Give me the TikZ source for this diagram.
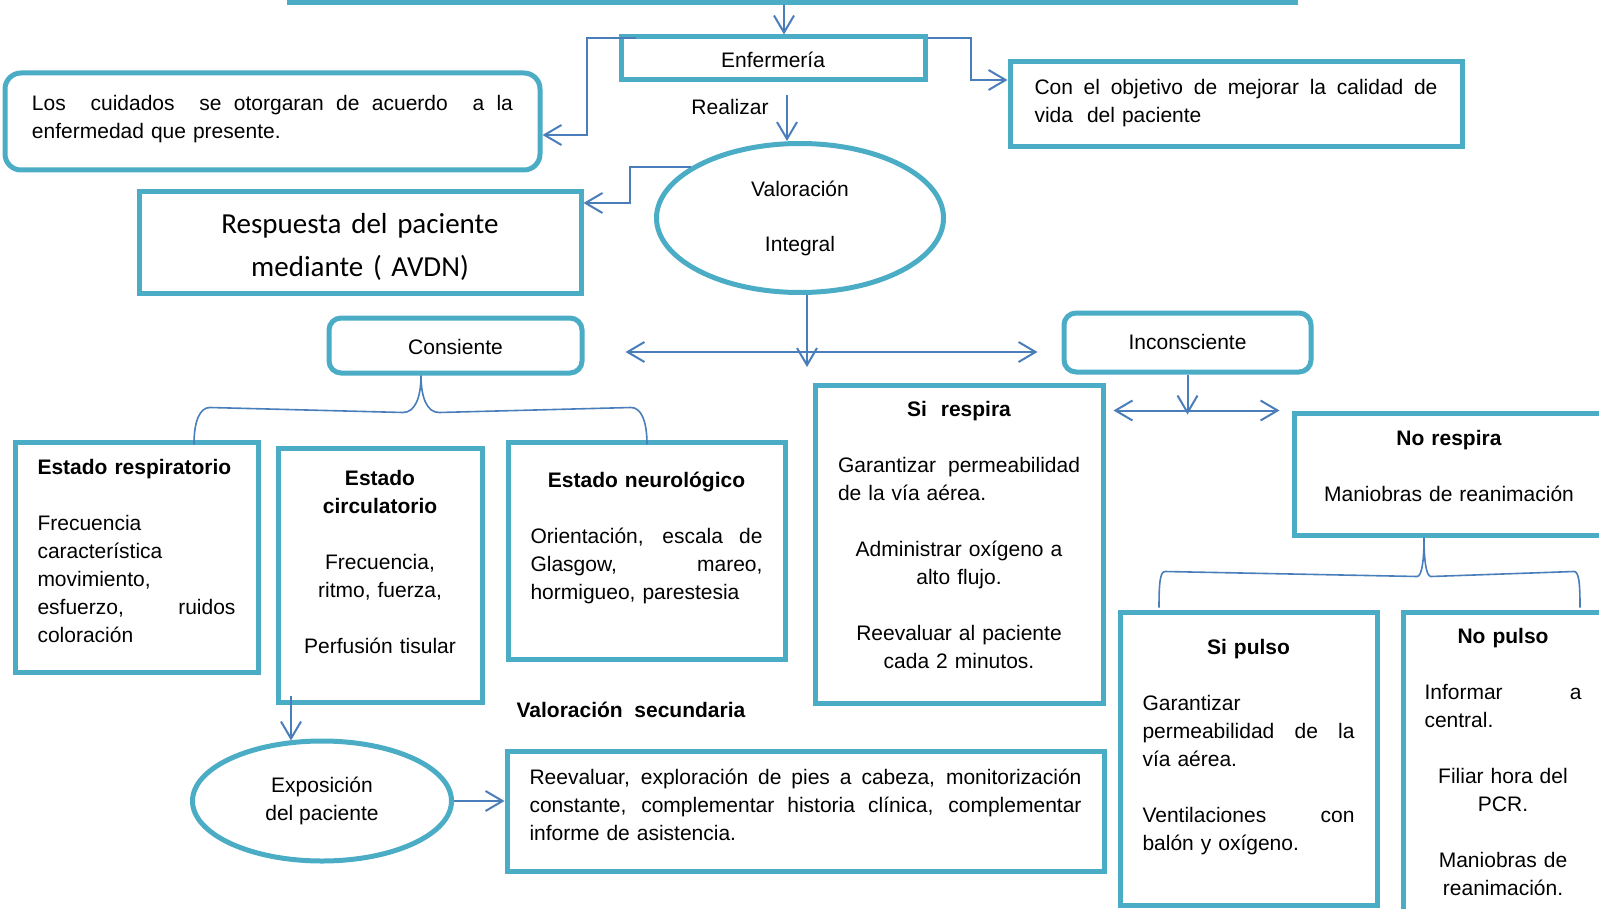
\documentclass[tikz,border=0pt]{standalone}
\usepackage{fontspec}
\setmainfont{Liberation Sans}
\newfontfamily\calib{Carlito}
\usepackage{tikz}
\usetikzlibrary{shapes.geometric, arrows.meta, calc}
\definecolor{boxc}{HTML}{4BACC6}
\definecolor{linkc}{HTML}{4A7EBB}
\newcommand{\jrow}[1]{\makebox[\linewidth][s]{\spaceskip=0pt\xspaceskip=0pt\relax #1}}
\newcommand{\lrow}[1]{\makebox[\linewidth][l]{#1}}

\begin{document}
\begin{tikzpicture}[x=0.5pt, y=-0.5pt,
	>={Straight Barb[length=8.5pt,width=10pt]},
	every node/.style={font=\fontsize{10.5}{14}\selectfont},
	box/.style={draw=boxc, line width=2.5pt, inner sep=0pt, anchor=base},
	rbox/.style={box, rounded corners=6pt},
	oval/.style={ellipse, draw=boxc, line width=2.5pt, inner sep=0pt},
	link/.style={draw=linkc, line width=1pt, ->},
	brace/.style={draw=linkc, line width=0.8pt}]
	\useasboundingbox (0,0) rectangle (1599,909);
	\node[box, minimum width=503pt, text height=20pt, text depth=0pt] (title) at (792,3) {};
	\node[box, minimum width=152pt, text height=15.5pt, text depth=6pt] (enf) at (773,68) {Enfermería};
	\node[rbox, rounded corners=8pt, minimum width=267.5pt, text width=240.5pt, align=left,
		text height=19pt, text depth=29.5pt] (los) at (272.5,111)
		{\jrow{Los\ \ cuidados\ \ se otorgaran de acuerdo\ \ a la}\\enfermedad que presente.};
	\node[box, minimum width=226pt, text width=201.5pt, align=left,
		text height=16.5pt, text depth=26pt] (con) at (1236,95)
		{\jrow{Con el objetivo de mejorar la calidad de}\\vida\ \ del paciente};
	\node (real) at (730,107) {Realizar};
	\node[oval, minimum width=143.5pt, minimum height=74.5pt, align=center] (val) at (800,218)
		{Valoración\\[13.5pt]Integral};
	\node[box, minimum width=221pt, text width=210pt, align=center, font=\calib\fontsize{14.5}{21.5}\selectfont,
		text height=21pt, text depth=29.5pt] (resp) at (360,234)
		{Respuesta del paciente\\mediante ( AVDN)};
	\node[rbox, minimum width=126.5pt, text height=18pt, text depth=9.5pt] (cons) at (455.5,354) {Consiente};
	\node[rbox, minimum width=123.5pt, text height=18pt, text depth=11.5pt] (incons) at (1187.5,349) {Inconsciente};
	\node[box, minimum width=121.5pt, text width=99pt, align=left,
		text height=16pt, text depth=99pt] (estres) at (136.5,474)
		{\textbf{Estado respiratorio}\\[14pt]Frecuencia\\característica\\movimiento,\\\jrow{esfuerzo, ruidos}\\coloración};
	\node[box, minimum width=102pt, text width=85pt, align=center,
		text height=18.5pt, text depth=108.5pt] (circ) at (380,485)
		{\textbf{Estado}\\\textbf{circulatorio}\\[14pt]Frecuencia,\\ritmo, fuerza,\\[14pt]Perfusión tisular};
	\node[box, minimum width=138.5pt, text width=116pt, align=center,
		text height=22.5pt, text depth=86pt] (neuro) at (646.5,487)
		{\textbf{Estado neurológico}\\[14pt]\jrow{Orientación, escala de}\\\jrow{Glasgow, mareo,}\\\lrow{hormigueo, parestesia}};
	\node[box, minimum width=144pt, text width=121pt, align=center,
		text height=15.5pt, text depth=143.5pt] (sires) at (959,416)
		{\textbf{Si\ \ respira}\\[14pt]\jrow{Garantizar permeabilidad}\\\lrow{de la vía aérea.}\\[14pt]Administrar oxígeno a\\alto flujo.\\[14pt]Reevaluar al paciente\\cada 2 minutos.};
	\node[box, minimum width=155pt, text width=135pt, align=center,
		text height=16pt, text depth=45pt] (nores) at (1449,445)
		{\textbf{No respira}\\[14pt]Maniobras de reanimación};
	\node[box, minimum width=128.5pt, text width=106pt, align=center,
		text height=21pt, text depth=125.5pt] (sipul) at (1248.5,654)
		{\textbf{Si pulso}\\[14pt]\lrow{Garantizar}\\\jrow{permeabilidad de la}\\\lrow{vía aérea.}\\[14pt]\jrow{Ventilaciones con}\\\lrow{balón y oxígeno.}};
	\node[box, minimum width=100pt, text width=78.5pt, align=center,
		text height=15.5pt, text depth=136pt] (nopul) at (1503,643)
		{\textbf{No pulso}\\[14pt]\jrow{Informar a}\\\lrow{central.}\\[14pt]Filiar hora del\\PCR.\\[14pt]Maniobras de\\reanimación.};
	\node[oval, minimum width=129.5pt, minimum height=60pt, align=center] (exp) at (322,801)
		{Exposición\\del paciente};
	\node (valsec) at (631,710) {\textbf{Valoración\ \ secundaria}};
	\node[box, minimum width=298.5pt, text width=276pt, align=left,
		text height=16.5pt, text depth=43.5pt] (reev) at (805.5,784)
		{\jrow{Reevaluar, exploración de pies a cabeza, monitorización}\\\jrow{constante, complementar historia clínica, complementar}\\informe de asistencia.};

	\draw[link] ($(title.south)+(-8,0)$) -- ($(enf.north)+(11,0)$);
	\draw[link] ($(enf.north west)+(17,4)$) -- ++(-49,0) |- ($(los.east)+(0,13.5)$);
	\draw[link] ($(enf.north east)+(0,4)$) -- ++(43,0) |- ($(con.west)+(0,-24.5)$);
	\draw[link] ($(val.north)+(-13,-46)$) -- ($(val.north)+(-13,0)$);
	\draw[link] (val.155) -- ++(-60.5,0) |- ($(resp.east)+(0,-39.5)$);
	\draw[link] ($(val.south)+(7,0)$) -- ++(0,72);
	\draw[link, <->] ($(cons.east)+(41,6.5)$) -- ($(incons.west)+(-24,9.5)$);
	\draw[link] (incons.south) -- ++(0,40);
	\draw[link, <->] ($(sires.north east)+(8,28)$) -- ($(nores.north west)+(-12,0)$);
	\draw[link] ($(circ.south)+(-89,-9)$) -- ($(exp.north)+(-31,2)$);
	\draw[link] (exp.east) -- (exp.east -| reev.west);

	\coordinate (ctip) at ($(cons.south)+(-34.5,0)$);
	\coordinate (cleft) at ($(estres.north)+(57.5,5)$);
	\coordinate (cright) at ($(neuro.north)+(0.5,5)$);
	\draw[brace] (cleft) .. controls +(0,-24) and +(-10,0) .. ($(cleft)+(16,-37)$)
		-- ($(ctip)+(-18,37)$) .. controls +(12,0) and +(0,22) .. (ctip)
		.. controls +(0,22) and +(-12,0) .. ($(ctip)+(18,37)$)
		-- ($(cright)+(-16,-37)$) .. controls +(10,0) and +(0,-24) .. (cright);
	\coordinate (ntip) at ($(nores.south)+(-25,0)$);
	\coordinate (nleft) at ($(sipul.north)+(-89.5,-2)$);
	\coordinate (nright) at ($(nopul.north)+(77,-2)$);
	\draw[brace] (nleft) .. controls +(0,-24) and +(-5,0) .. ($(nleft)+(6,-36)$)
		-- ($(ntip)+(-7,39)$) .. controls +(5,0) and +(0,22) .. (ntip)
		.. controls +(0,22) and +(-5,0) .. ($(ntip)+(7,39)$)
		-- ($(nright)+(-6,-36)$) .. controls +(5,0) and +(0,-24) .. (nright);
\end{tikzpicture}
\end{document}
